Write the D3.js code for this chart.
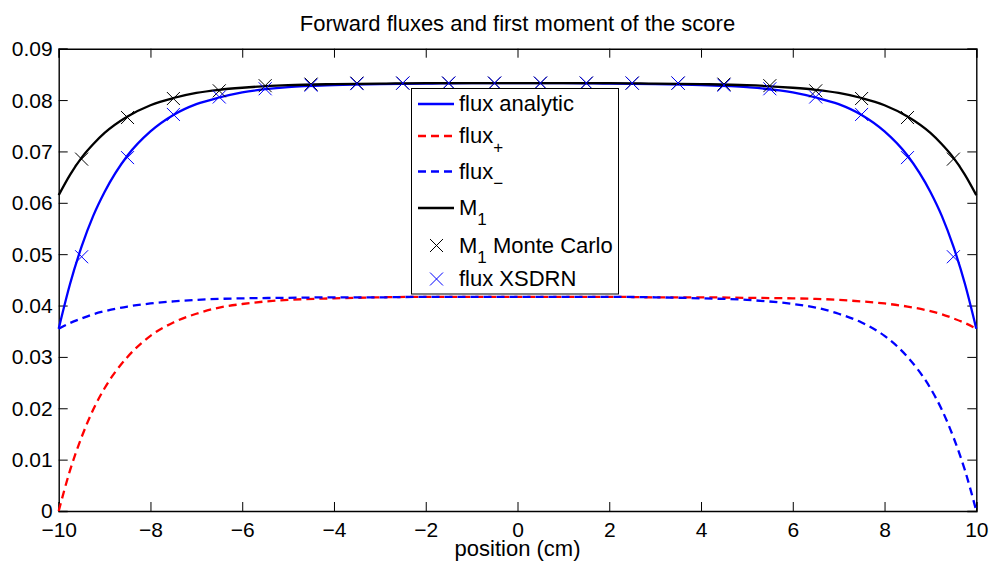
<!DOCTYPE html>
<html>
<head>
<meta charset="utf-8">
<script src="https://cdn.jsdelivr.net/npm/d3@7"></script>
<style>
    body { margin: 0; background: #fff; }
    svg { font-family: 'Liberation Sans', Arial, sans-serif; }
</style>
</head>
<body>
<div id="chart"></div>
<script>
const positions = [-10, -9.75, -9.5, -9.25, -9, -8.5, -8, -7.5, -7, -6.5, -6, -5, -4, -3, -2, -1,
    0, 1, 2, 3, 4, 5, 6, 6.5, 7, 7.5, 8, 8.5, 9, 9.25, 9.5, 9.75, 10];

const fluxAnalytic = [0.0355, 0.0443, 0.0515, 0.0574, 0.0621, 0.0692, 0.0739, 0.0771, 0.0792, 0.0805, 0.0815, 0.0825, 0.0829, 0.0831, 0.0832, 0.0833,
    0.0833, 0.0833, 0.0832, 0.0831, 0.0829, 0.0825, 0.0815, 0.0805, 0.0792, 0.0771, 0.0739, 0.0692, 0.0621, 0.0574, 0.0515, 0.0443, 0.0355];

const fluxPlus = [0, 0.0080, 0.0144, 0.0197, 0.0239, 0.0300, 0.0341, 0.0367, 0.0384, 0.0396, 0.0403, 0.0411, 0.0414, 0.0416, 0.0417, 0.0417,
    0.0417, 0.0417, 0.0417, 0.0416, 0.0416, 0.0415, 0.0414, 0.0413, 0.0411, 0.0408, 0.0404, 0.0398, 0.0389, 0.0383, 0.0375, 0.0366, 0.0355];

const fluxMinus = [0.0355, 0.0366, 0.0375, 0.0383, 0.0389, 0.0398, 0.0404, 0.0408, 0.0411, 0.0413, 0.0414, 0.0415, 0.0416, 0.0416, 0.0417, 0.0417,
    0.0417, 0.0417, 0.0417, 0.0416, 0.0414, 0.0411, 0.0403, 0.0396, 0.0384, 0.0367, 0.0341, 0.0300, 0.0239, 0.0197, 0.0144, 0.0080, 0];

const m1 = [0.0615, 0.0655, 0.0688, 0.0714, 0.0736, 0.0768, 0.0790, 0.0804, 0.0814, 0.0820, 0.0824, 0.0829, 0.0831, 0.0832, 0.0833, 0.0833,
    0.0833, 0.0833, 0.0833, 0.0832, 0.0831, 0.0829, 0.0824, 0.0820, 0.0814, 0.0804, 0.0790, 0.0768, 0.0736, 0.0714, 0.0688, 0.0655, 0.0615];

// marker positions (cell centres)
const markerPositions = [-9.5, -8.5, -7.5, -6.5, -5.5, -4.5, -3.5, -2.5, -1.5, -0.5,
    0.5, 1.5, 2.5, 3.5, 4.5, 5.5, 6.5, 7.5, 8.5, 9.5];

const m1MonteCarlo = [0.0685, 0.0766, 0.0803, 0.0818, 0.0828, 0.0831, 0.0833, 0.0833, 0.0833, 0.0833,
    0.0833, 0.0833, 0.0833, 0.0833, 0.0831, 0.0828, 0.0818, 0.0803, 0.0766, 0.0685];

const fluxXsdrn = [0.0495, 0.0688, 0.0772, 0.0806, 0.0822, 0.0829, 0.0832, 0.0833, 0.0833, 0.0833,
    0.0833, 0.0833, 0.0833, 0.0833, 0.0829, 0.0822, 0.0806, 0.0772, 0.0688, 0.0495];

const xTicks = [-10, -8, -6, -4, -2, 0, 2, 4, 6, 8, 10];
const yTicks = [0, 0.01, 0.02, 0.03, 0.04, 0.05, 0.06, 0.07, 0.08, 0.09];

// svg dims
const width = 989, height = 561;
const margin = {top: 48.7, left: 58.7, right: 12.7, bottom: 50};
const innerwidth = width - margin.left - margin.right;
const innerheight = 511 - margin.top;

const blue = '#0000ff', red = '#ff0000';

let svg = d3.select('#chart').append('svg')
    .attr('width', width)
    .attr('height', height);

let x = d3.scaleLinear().domain([-10, 10]).range([margin.left, margin.left + innerwidth]);
let y = d3.scaleLinear().domain([0, 0.09]).range([margin.top + innerheight, margin.top]);

// title
svg.append('text')
    .attr('x', x(0))
    .attr('y', 31)
    .attr('text-anchor', 'middle')
    .style('font-size', '22px')
    .text('Forward fluxes and first moment of the score');

// axes, matlab style (ticks inside, box on)
const tickLen = 9;
const fmtX = d => d < 0 ? '\u2212' + Math.abs(d) : String(d);
const fmtY = d => d === 0 ? '0' : d3.format('.2f')(d);

let gx = svg.append('g').attr('transform', `translate(0,${y(0)})`)
    .call(d3.axisBottom(x).tickValues(xTicks).tickSize(-tickLen).tickPadding(11).tickFormat(fmtX));
let gxTop = svg.append('g').attr('transform', `translate(0,${y(0.09)})`)
    .call(d3.axisTop(x).tickValues(xTicks).tickSize(-tickLen).tickFormat(''));
let gy = svg.append('g').attr('transform', `translate(${x(-10)},0)`)
    .call(d3.axisLeft(y).tickValues(yTicks).tickSize(-tickLen).tickPadding(6).tickFormat(fmtY));
let gyRight = svg.append('g').attr('transform', `translate(${x(10)},0)`)
    .call(d3.axisRight(y).tickValues(yTicks).tickSize(-tickLen).tickFormat(''));

[gx, gxTop, gy, gyRight].forEach(function(g) {
    g.selectAll('.domain').attr('stroke', '#000').attr('stroke-width', 1.4);
    g.selectAll('.tick line').attr('stroke', '#000').attr('stroke-width', 1);
    g.selectAll('.tick text')
        .attr('fill', '#000')
        .style('font-size', '21px')
        .style('font-family', "'Liberation Sans', Arial, sans-serif");
});
gx.selectAll('.tick text').attr('dy', '0.71em');
gy.selectAll('.tick text').attr('dy', '0.33em');

// x label
svg.append('text')
    .attr('x', x(0))
    .attr('y', 556)
    .attr('text-anchor', 'middle')
    .style('font-size', '22px')
    .text('position (cm)');

// curves
let plot = svg.append('g');
function drawCurve(values, color, dashed) {
    let line = d3.line()
        .x((d, i) => x(positions[i]))
        .y(d => y(d))
        .curve(d3.curveMonotoneX);
    plot.append('path')
        .datum(values)
        .attr('d', line)
        .attr('fill', 'none')
        .attr('stroke', color)
        .attr('stroke-width', 2.3)
        .attr('stroke-dasharray', dashed ? '8,5' : null);
}

drawCurve(fluxAnalytic, blue, false);
drawCurve(fluxPlus, red, true);
drawCurve(fluxMinus, blue, true);
drawCurve(m1, '#000', false);

// x-shaped markers
function cross(g, cx, cy, color) {
    const s = 6.5;
    g.append('path')
        .attr('d', `M${cx - s},${cy - s}L${cx + s},${cy + s}M${cx - s},${cy + s}L${cx + s},${cy - s}`)
        .attr('stroke', color)
        .attr('stroke-width', 1)
        .attr('fill', 'none');
}

markerPositions.forEach(function(p, i) {
    cross(plot, x(p), y(m1MonteCarlo[i]), '#000');
});
markerPositions.forEach(function(p, i) {
    cross(plot, x(p), y(fluxXsdrn[i]), blue);
});

// legend
let legend = svg.append('g');
legend.append('rect')
    .attr('x', 411.5).attr('y', 88.5)
    .attr('width', 207).attr('height', 205.5)
    .attr('fill', '#fff')
    .attr('stroke', '#000')
    .attr('stroke-width', 1);

const entries = [
    {label: 'flux analytic', sub: null, color: blue, dash: null, y: 104},
    {label: 'flux', sub: '+', color: red, dash: '8,5', y: 136},
    {label: 'flux', sub: '\u2212', color: blue, dash: '8,5', y: 171.5},
    {label: 'M', sub: '1', color: '#000', dash: null, y: 208},
    {label: 'M', sub: '1', rest: ' Monte Carlo', color: '#000', marker: true, y: 245.5},
    {label: 'flux XSDRN', sub: null, color: blue, marker: true, y: 279}
];

entries.forEach(function(e) {
    if (e.marker) {
        cross(legend, 436.5, e.y, e.color);
    } else {
        legend.append('line')
            .attr('x1', 418).attr('x2', 454)
            .attr('y1', e.y).attr('y2', e.y)
            .attr('stroke', e.color)
            .attr('stroke-width', 2.3)
            .attr('stroke-dasharray', e.dash);
    }
    let t = legend.append('text')
        .attr('x', 459)
        .attr('y', e.y + 7)
        .style('font-size', '22px');
    t.append('tspan').text(e.label);
    if (e.sub) {
        t.append('tspan').attr('dy', 10).style('font-size', '17px').text(e.sub);
    }
    if (e.rest) {
        t.append('tspan').attr('dy', -10).text(e.rest);
    }
});
</script>
</body>
</html>
